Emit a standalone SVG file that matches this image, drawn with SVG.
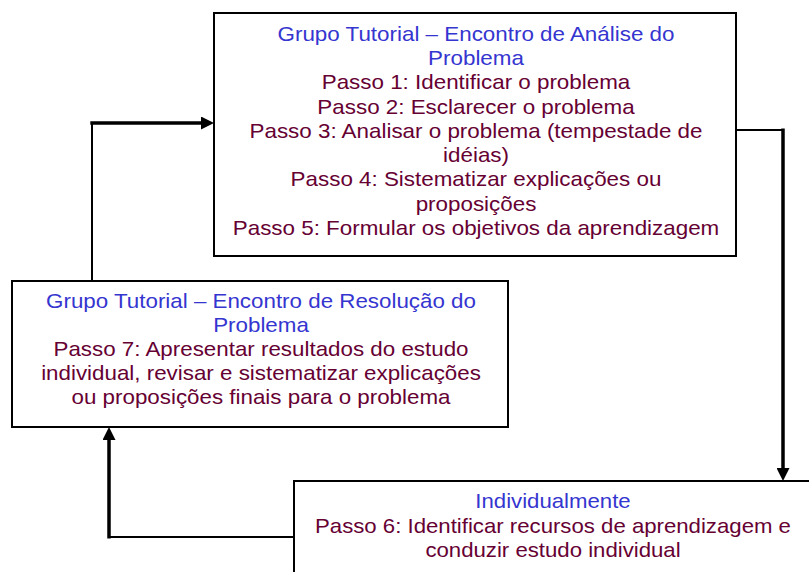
<svg xmlns="http://www.w3.org/2000/svg" width="809" height="572" viewBox="0 0 809 572">
<style>
  .box { fill: #ffffff; stroke: #000000; stroke-width: 2; }
  .txt { font-family: "Liberation Sans", Arial, sans-serif; font-size: 20px; text-anchor: middle; }
  .ttl { fill: #3535D0; }
  .bdy { fill: #660033; }
  .thin { stroke: #000000; stroke-width: 2; fill: none; }
  .thick { stroke: #000000; stroke-width: 3.5; fill: none; }
</style>
<defs>
  <marker id="arr" markerUnits="userSpaceOnUse" markerWidth="13" markerHeight="13" refX="0" refY="6.5" orient="auto">
    <path d="M0,0 L13,6.5 L0,13 z" fill="#000000"/>
  </marker>
</defs>
<rect width="809" height="572" fill="#ffffff"/>

<g id="connectors">
  <line class="thin" x1="92" y1="281" x2="92" y2="123"/>
  <line class="thick" x1="90.3" y1="123" x2="201" y2="123" marker-end="url(#arr)"/>
  <line class="thin" x1="736" y1="130" x2="783" y2="130"/>
  <line class="thick" x1="783" y1="128.5" x2="783" y2="468" marker-end="url(#arr)"/>
  <line class="thin" x1="294" y1="537" x2="109" y2="537"/>
  <line class="thick" x1="109" y1="538.5" x2="109" y2="440" marker-end="url(#arr)"/>
</g>

<g id="node-analise">
  <rect class="box" x="214" y="13" width="522" height="243"/>
  <g transform="translate(476,0) scale(1.12,1)">
    <text class="txt ttl" x="0" y="41">Grupo Tutorial – Encontro de Análise do</text>
    <text class="txt ttl" x="0" y="65.25">Problema</text>
    <text class="txt bdy" x="0" y="89.5">Passo 1: Identificar o problema</text>
    <text class="txt bdy" x="0" y="113.75">Passo 2: Esclarecer o problema</text>
    <text class="txt bdy" x="0" y="138">Passo 3: Analisar o problema (tempestade de</text>
    <text class="txt bdy" x="0" y="162.25">idéias)</text>
    <text class="txt bdy" x="0" y="186.5">Passo 4: Sistematizar explicações ou</text>
    <text class="txt bdy" x="0" y="210.75">proposições</text>
    <text class="txt bdy" x="0" y="235">Passo 5: Formular os objetivos da aprendizagem</text>
  </g>
</g>

<g id="node-resolucao">
  <rect class="box" x="12" y="281" width="496" height="146"/>
  <g transform="translate(261,0) scale(1.118,1)">
    <text class="txt ttl" x="0" y="308.5">Grupo Tutorial – Encontro de Resolução do</text>
    <text class="txt ttl" x="0" y="332.5">Problema</text>
    <text class="txt bdy" x="0" y="356.5">Passo 7: Apresentar resultados do estudo</text>
    <text class="txt bdy" x="0" y="380.5">individual, revisar e sistematizar explicações</text>
    <text class="txt bdy" x="0" y="404.5">ou proposições finais para o problema</text>
  </g>
</g>

<g id="node-individual">
  <rect class="box" x="294" y="481" width="520" height="100"/>
  <g transform="translate(553,0) scale(1.11,1)">
    <text class="txt ttl" x="0" y="508.5">Individualmente</text>
    <text class="txt bdy" x="0" y="532.8">Passo 6: Identificar recursos de aprendizagem e</text>
    <text class="txt bdy" x="0" y="557">conduzir estudo individual</text>
  </g>
</g>
</svg>
